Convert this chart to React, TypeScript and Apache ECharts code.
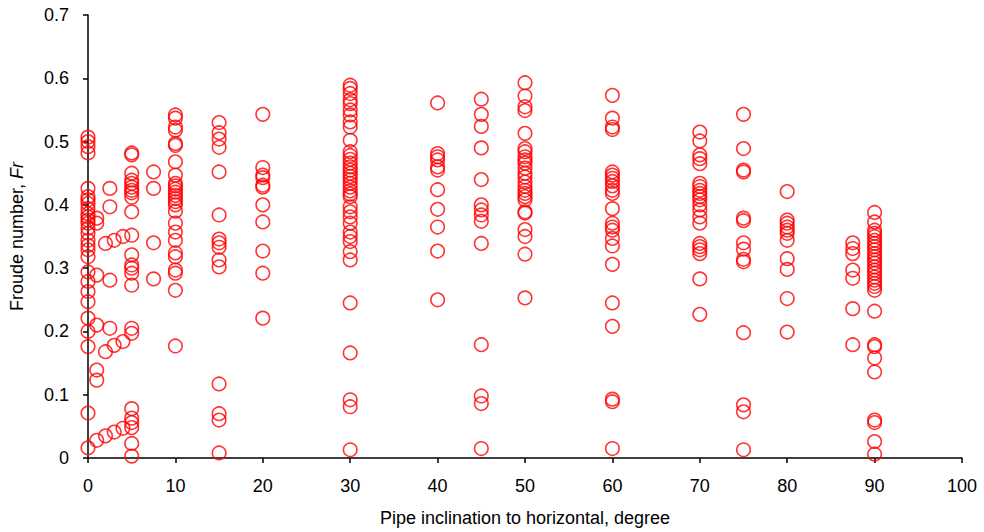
import React, { useEffect, useRef } from "react";
import * as echarts from "echarts";

// Froude number readings per pipe inclination (degrees)
const fr0 = [0.507, 0.5, 0.492, 0.482, 0.426, 0.413, 0.408, 0.402, 0.394, 0.386, 0.381, 0.376, 0.371, 0.363, 0.355, 0.344, 0.336, 0.329, 0.318, 0.294, 0.279, 0.263, 0.247, 0.221, 0.2, 0.176, 0.071, 0.016];
const fr1 = [0.379, 0.371, 0.289, 0.21, 0.139, 0.123, 0.028];
const fr2 = [0.339, 0.168, 0.035];
const fr2_5 = [0.426, 0.397, 0.281, 0.205];
const fr3 = [0.344, 0.178, 0.041];
const fr4 = [0.35, 0.184, 0.047];
const fr5 = [0.482, 0.479, 0.45, 0.439, 0.434, 0.428, 0.423, 0.419, 0.412, 0.389, 0.352, 0.321, 0.305, 0.3, 0.292, 0.273, 0.205, 0.197, 0.078, 0.063, 0.056, 0.048, 0.023, 0.003];
const fr7_5 = [0.452, 0.426, 0.34, 0.283];
const fr10 = [0.542, 0.537, 0.523, 0.518, 0.497, 0.494, 0.468, 0.447, 0.434, 0.43, 0.425, 0.42, 0.415, 0.41, 0.405, 0.4, 0.39, 0.371, 0.357, 0.344, 0.324, 0.318, 0.297, 0.292, 0.265, 0.177];
const fr15 = [0.53, 0.514, 0.504, 0.491, 0.452, 0.384, 0.346, 0.34, 0.333, 0.313, 0.302, 0.117, 0.07, 0.06, 0.008];
const fr20 = [0.543, 0.459, 0.447, 0.443, 0.431, 0.428, 0.4, 0.373, 0.327, 0.292, 0.221];
const fr30 = [0.589, 0.584, 0.576, 0.566, 0.56, 0.55, 0.542, 0.531, 0.523, 0.502, 0.484, 0.478, 0.472, 0.466, 0.46, 0.455, 0.45, 0.445, 0.44, 0.434, 0.428, 0.422, 0.417, 0.413, 0.397, 0.389, 0.381, 0.371, 0.357, 0.35, 0.342, 0.326, 0.313, 0.245, 0.166, 0.092, 0.081, 0.013];
const fr40 = [0.561, 0.481, 0.476, 0.471, 0.46, 0.455, 0.424, 0.393, 0.365, 0.327, 0.25];
const fr45 = [0.567, 0.543, 0.524, 0.49, 0.44, 0.4, 0.392, 0.384, 0.374, 0.339, 0.179, 0.098, 0.086, 0.015];
const fr50 = [0.593, 0.572, 0.555, 0.549, 0.513, 0.489, 0.484, 0.476, 0.471, 0.466, 0.458, 0.45, 0.444, 0.436, 0.429, 0.423, 0.418, 0.413, 0.408, 0.389, 0.387, 0.361, 0.35, 0.322, 0.253];
const fr60 = [0.573, 0.537, 0.523, 0.519, 0.452, 0.447, 0.442, 0.437, 0.43, 0.423, 0.418, 0.394, 0.371, 0.365, 0.36, 0.347, 0.335, 0.306, 0.245, 0.208, 0.093, 0.089, 0.015];
const fr70 = [0.515, 0.501, 0.479, 0.473, 0.465, 0.434, 0.429, 0.423, 0.418, 0.413, 0.408, 0.4, 0.392, 0.381, 0.371, 0.339, 0.334, 0.329, 0.323, 0.283, 0.227];
const fr75 = [0.543, 0.489, 0.455, 0.452, 0.379, 0.375, 0.34, 0.33, 0.314, 0.31, 0.198, 0.084, 0.073, 0.013];
const fr80 = [0.421, 0.376, 0.371, 0.365, 0.36, 0.355, 0.344, 0.315, 0.298, 0.252, 0.199];
const fr87_5 = [0.34, 0.331, 0.323, 0.297, 0.284, 0.236, 0.179];
const fr90 = [0.388, 0.373, 0.36, 0.355, 0.35, 0.344, 0.339, 0.334, 0.329, 0.323, 0.318, 0.313, 0.308, 0.302, 0.297, 0.292, 0.286, 0.281, 0.276, 0.271, 0.265, 0.232, 0.179, 0.176, 0.158, 0.136, 0.06, 0.056, 0.026, 0.006];

const inclinations = [0, 1, 2, 2.5, 3, 4, 5, 7.5, 10, 15, 20, 30, 40, 45, 50, 60, 70, 75, 80, 87.5, 90];
const groups = [fr0, fr1, fr2, fr2_5, fr3, fr4, fr5, fr7_5, fr10, fr15, fr20, fr30, fr40, fr45, fr50, fr60, fr70, fr75, fr80, fr87_5, fr90];

const xTicks = [0, 10, 20, 30, 40, 50, 60, 70, 80, 90, 100];
const yTicks = [0, 0.1, 0.2, 0.3, 0.4, 0.5, 0.6, 0.7];

export default function App() {
  const ref = useRef<HTMLDivElement>(null);
  useEffect(() => {
    if (!ref.current) return;
    const chart = echarts.init(ref.current, null, { renderer: "svg" });
    const points: number[][] = [];
    inclinations.forEach((deg, i) => {
      groups[i].forEach((v) => points.push([deg, v]));
    });
    const font = "'Liberation Sans', Arial, sans-serif";
    chart.setOption({
      animation: false,
      backgroundColor: "#ffffff",
      grid: { left: 88, right: 22, top: 15, bottom: 74, containLabel: false, outerBoundsMode: "none" },
      xAxis: {
        type: "value",
        min: xTicks[0],
        max: xTicks[xTicks.length - 1],
        interval: 10,
        name: "Pipe inclination to horizontal, degree",
        nameLocation: "middle",
        nameGap: 51,
        nameTextStyle: { color: "#000", fontSize: 18, fontFamily: font },
        axisLine: { show: true, onZero: false, lineStyle: { color: "#000", width: 1.5 } },
        axisTick: { show: true, inside: false, length: 5, lineStyle: { color: "#000", width: 1.5 } },
        axisLabel: { color: "#000", fontSize: 18, fontFamily: font, margin: 19 },
        splitLine: { show: false },
      },
      yAxis: {
        type: "value",
        min: yTicks[0],
        max: yTicks[yTicks.length - 1],
        interval: 0.1,
        name: "Froude number, {i|Fr}",
        nameLocation: "middle",
        nameGap: 62,
        nameTextStyle: {
          color: "#000",
          fontSize: 18,
          fontFamily: font,
          rich: { i: { fontStyle: "italic", fontSize: 18, fontFamily: font, color: "#000" } },
        },
        axisLine: { show: true, onZero: false, lineStyle: { color: "#000", width: 1.5 } },
        axisTick: { show: true, inside: false, length: 5, lineStyle: { color: "#000", width: 1.5 } },
        axisLabel: {
          color: "#000",
          fontSize: 18,
          fontFamily: font,
          margin: 19,
          formatter: (v: number) => (Math.round(v * 10) / 10).toString(),
        },
        splitLine: { show: false },
      },
      series: [
        {
          type: "scatter",
          data: points,
          symbol: "circle",
          symbolSize: 13.5,
          itemStyle: { color: "rgba(0,0,0,0)", borderColor: "#ff0000", borderWidth: 1.6 },
          emphasis: { disabled: true },
        },
      ],
    });
    return () => chart.dispose();
  }, []);
  return <div ref={ref} style={{ width: 984, height: 532, position: "absolute", left: 0, top: 0 }} />;
}
